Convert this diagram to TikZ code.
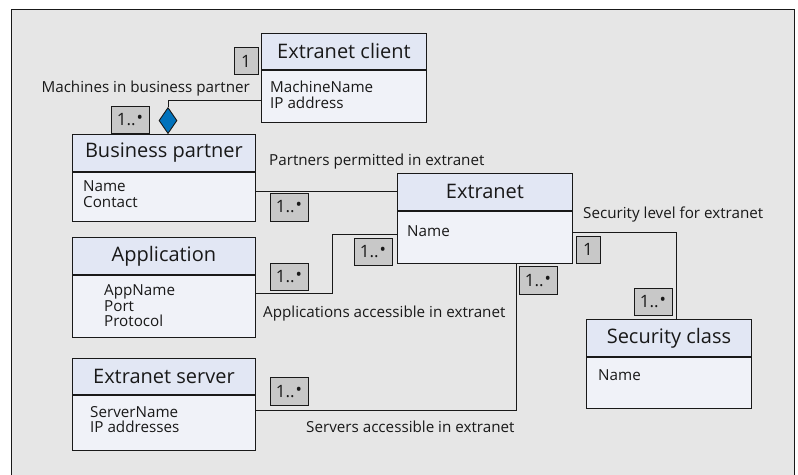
\documentclass[tikz,border=0pt]{standalone}
\usepackage{fontspec}
\setmainfont{Open Sans}
\usetikzlibrary{shapes.geometric}
\definecolor{panel}{RGB}{230,230,230}
\definecolor{hdrfill}{RGB}{226,231,244}
\definecolor{bodyfill}{RGB}{240,242,248}
\definecolor{multfill}{RGB}{200,200,200}
\definecolor{aggblue}{RGB}{0,114,188}
\definecolor{ink}{RGB}{25,25,25}
\tikzset{
  hdr/.style={draw=ink, line width=0.9pt, fill=hdrfill, anchor=north west, inner sep=0pt,
    font=\fontsize{20}{22}\selectfont, text=ink},
  bodybox/.style={draw=ink, line width=0.9pt, fill=bodyfill, anchor=north west, inner sep=0pt},
  % attribute lists are placed by the baseline of their last line
  attr/.style={anchor=base west, inner sep=0pt, align=left, text=ink,
    font=\fontsize{15.2}{15.5}\selectfont},
  lbl/.style={anchor=base west, inner sep=0pt, text=ink, font=\fontsize{15.2}{16}\selectfont},
  mult/.style={draw=ink, line width=0.8pt, fill=multfill, inner sep=0pt, text=ink,
    font=\fontsize{17}{18}\selectfont},
  assoc/.style={draw=ink, line width=0.9pt},
}
\newcommand{\many}{1..\kern1pt\raisebox{2pt}{•}}
\begin{document}
\begin{tikzpicture}[x=1pt,y=-1pt]
\useasboundingbox (0,0) rectangle (798,474);
% panel
\draw[fill=panel, draw=ink, line width=0.9pt] (11,9) rectangle (794,490);

% Extranet client
\node[hdr, minimum width=165pt, minimum height=36pt] (ech) at (261,33) {Extranet client};
\node[bodybox, minimum width=165pt, minimum height=52pt] (ecb) at (ech.south west) {};
\node[attr] (eca) at (270,108.2) {MachineName\\IP address};

% Business partner
\node[hdr, minimum width=183pt, minimum height=37pt] (bph) at (72,134) {Business partner};
\node[bodybox, minimum width=183pt, minimum height=49pt] (bpb) at (bph.south west) {};
\node[attr] (bpa) at (83,207) {Name\\Contact};

% Application
\node[hdr, minimum width=183pt, minimum height=36.5pt] (aph) at (72,237.3) {Application};
\node[bodybox, minimum width=183pt, minimum height=62.6pt] (apb) at (aph.south west) {};
\node[attr] (apa) at (104,326.5) {AppName\\Port\\Protocol};

% Extranet server
\node[hdr, minimum width=183pt, minimum height=36pt] (esh) at (72,358.3) {Extranet server};
\node[bodybox, minimum width=183pt, minimum height=54.7pt] (esb) at (esh.south west) {};
\node[attr] (esa) at (90,432.7) {ServerName\\IP addresses};

% Extranet
\node[hdr, minimum width=175pt, minimum height=36.4pt] (exh) at (397,173.3) {Extranet};
\node[bodybox, minimum width=175pt, minimum height=52pt] (exb) at (exh.south west) {};
\node[attr] (exa) at (407,236.2) {Name};

% Security class
\node[hdr, minimum width=165pt, minimum height=36.4pt] (sch) at (586,319.3) {Security class};
\node[bodybox, minimum width=165pt, minimum height=51.6pt] (scb) at (sch.south west) {};
\node[attr] (sca) at (598,380.5) {Name};

% aggregation diamond
\node[diamond, draw=ink, line width=0.9pt, fill=aggblue, inner sep=0pt,
  minimum width=18pt, minimum height=26pt, anchor=south] (agg) at (168,134) {};

% associations
\draw[assoc] (ecb.west |- 0,100.7) -| (agg.north);
\draw[assoc] (bpb.east |- 0,191) -- (exh.west |- 0,191);
\draw[assoc] (apb.east |- 0,293.7) -- (332.7,293.7) |- (exb.west |- 0,234);
\draw[assoc] (exb.east |- 0,232.7) -| (sch.north -| 676,0);
\draw[assoc] (exb.south -| 516.7,0) |- (esb.east |- 0,410.7);

% multiplicities
\node[mult, minimum width=24pt, minimum height=26.6pt] (m1) at (246,61) {1};
\node[mult, minimum width=38pt, minimum height=26.3pt] (m2) at (130,119.8) {\many};
\node[mult, minimum width=38pt, minimum height=28pt] (m3) at (289,207) {\many};
\node[mult, minimum width=38pt, minimum height=27.4pt] (m4) at (373,252) {\many};
\node[mult, minimum width=38pt, minimum height=27.4pt] (m5) at (289,277) {\many};
\node[mult, minimum width=24pt, minimum height=27.3pt] (m6) at (588,249.6) {1};
\node[mult, minimum width=38pt, minimum height=27.6pt] (m7) at (538,280.5) {\many};
\node[mult, minimum width=38pt, minimum height=27.3pt] (m8) at (653,301.6) {\many};
\node[mult, minimum width=38pt, minimum height=27.3pt] (m9) at (289,391.3) {\many};

% association names
\node[lbl, anchor=base east] (l1) at (250,92.5) {Machines in business partner};
\node[lbl] (l2) at (269,165.5) {Partners permitted in extranet};
\node[lbl] (l3) at (263,317) {Applications accessible in extranet};
\node[lbl] (l4) at (306,432) {Servers accessible in extranet};
\node[lbl] (l5) at (583,218.5) {Security level for extranet};
\end{tikzpicture}
\end{document}
